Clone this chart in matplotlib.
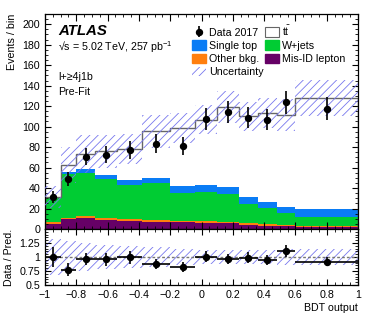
import numpy as np
import matplotlib
matplotlib.use("Agg")
import matplotlib.pyplot as plt
from matplotlib.patches import Patch
from matplotlib.ticker import MultipleLocator, FixedLocator, FixedFormatter

FS = 7.7
plt.rcParams.update({
    "font.family": ["Liberation Sans", "DejaVu Sans"],
    "mathtext.fontset": "custom",
    "mathtext.rm": "Liberation Sans",
    "mathtext.it": "Liberation Sans:italic",
    "font.size": FS,
    "hatch.linewidth": 0.6,
})

# ---- data -------------------------------------------------------------------
edges = [-1.0, -0.9, -0.8, -0.68, -0.54, -0.38, -0.2, -0.04, 0.1, 0.24, 0.36, 0.48, 0.6, 1.0]

misid     = [5.2, 9.5, 11.0, 8.5, 7.8, 7.2, 6.5, 5.8, 5.5, 4.0, 3.3, 2.9, 2.3]
other     = [1.3, 1.6, 2.0, 2.6, 2.0, 2.0, 1.7, 1.6, 1.0, 1.5, 1.3, 1.0, 0.6]
wjets     = [23.3, 42.2, 42.0, 37.5, 33.3, 35.3, 27.4, 28.8, 27.2, 19.2, 15.7, 12.1, 9.2]
singletop = [1.2, 2.2, 3.5, 4.3, 4.9, 5.2, 6.6, 7.0, 7.0, 6.5, 5.8, 5.9, 7.5]
ttbar     = [0.3, 7.2, 15.0, 22.9, 30.1, 45.7, 56.5, 63.7, 78.6, 78.8, 87.3, 89.9, 108.4]

data      = [31.4, 48.7, 70.8, 72.5, 77.5, 83.3, 81.0, 107.5, 114.0, 108.8, 106.9, 123.8, 117.6]
rel_unc   = [0.33, 0.28, 0.25, 0.21, 0.19, 0.17, 0.15, 0.13, 0.13, 0.13, 0.13, 0.14, 0.14]

xtick_vals = [-1.0, -0.8, -0.6, -0.4, -0.2, 0.0, 0.2, 0.4, 0.6, 0.8, 1.0]
xtick_text = ["\u22121", "\u22120.8", "\u22120.6", "\u22120.4", "\u22120.2",
              "0", "0.2", "0.4", "0.6", "0.8", "1"]

C_MISID = "#660066"
C_OTHER = "#ff7f0e"
C_WJETS = "#00cc33"
C_STOP  = "#0a7cf5"
C_TT    = "white"
C_HATCH = "#7878ee"
C_LINE  = "#666666"

edges = np.array(edges)
centers = 0.5 * (edges[1:] + edges[:-1])
halfw = 0.5 * (edges[1:] - edges[:-1])
data = np.array(data)
derr = np.sqrt(data)

W, H = 374, 318
fig = plt.figure(figsize=(W / 100, H / 100), dpi=100)
x0, x1 = 45 / W, 358 / W
ax = fig.add_axes([x0, 1 - 229 / H, x1 - x0, (229 - 14) / H])
rax = fig.add_axes([x0, 1 - 285 / H, x1 - x0, (285 - 229) / H], sharex=ax)

# ---- stacked backgrounds ----------------------------------------------------
base = np.zeros(len(centers))
for vals, col in [(misid, C_MISID), (other, C_OTHER), (wjets, C_WJETS),
                  (singletop, C_STOP), (ttbar, C_TT)]:
    top = base + np.array(vals)
    ax.stairs(top, edges, baseline=base, fill=True, color=col, lw=0, zorder=1)
    base = top
total = base
ax.stairs(total, edges, color=C_LINE, lw=1.0, zorder=2)

rel = np.array(rel_unc)
ax.stairs(total * (1 + rel), edges, baseline=total * (1 - rel), fill=True,
          facecolor="none", edgecolor=C_HATCH, lw=0, hatch="////", zorder=3)

h_data = ax.errorbar(centers, data, yerr=derr, fmt="o", color="black", ms=4.3,
                     elinewidth=1.2, capsize=0, zorder=5)

ax.set_xlim(-1, 1)
ax.set_ylim(0, 210)
ax.yaxis.set_major_locator(MultipleLocator(20))
ax.yaxis.set_minor_locator(MultipleLocator(5))
ax.set_ylabel("Events / bin", loc="top", fontsize=FS)
ax.tick_params(labelbottom=False)

# ---- ratio panel ------------------------------------------------------------
ratio = data / total
rerr = derr / total
rax.stairs(1 + rel, edges, baseline=1 - rel, fill=True, facecolor="none",
           edgecolor=C_HATCH, lw=0, hatch="////", zorder=1)
rax.axhline(1, color="#777777", ls=(0, (2, 1.5)), lw=1.0, zorder=2)
rax.errorbar(centers, ratio, yerr=rerr, xerr=halfw, fmt="o", color="black",
             ms=4.3, elinewidth=1.2, capsize=0, zorder=5)
rax.set_ylim(0.5, 1.5)
rax.yaxis.set_major_locator(FixedLocator([0.5, 0.75, 1.0, 1.25]))
rax.yaxis.set_major_formatter(FixedFormatter(["0.5", "0.75", "1", "1.25"]))
rax.yaxis.set_minor_locator(MultipleLocator(0.05))
rax.set_xticks(xtick_vals)
rax.set_xticklabels(xtick_text)
rax.xaxis.set_minor_locator(MultipleLocator(0.05))
rax.set_xlabel("BDT output", loc="right", fontsize=FS, labelpad=2)
rax.set_ylabel("Data / Pred.", fontsize=FS)

for a in (ax, rax):
    a.tick_params(which="both", direction="in", top=True, right=True, labelsize=FS)
    a.tick_params(which="major", length=4.5, width=0.8)
    a.tick_params(which="minor", length=2.5, width=0.6)
    for s in a.spines.values():
        s.set_linewidth(0.9)
ax.tick_params(axis="x", which="major", length=5)

fig.align_ylabels([ax, rax])

# ---- labels -----------------------------------------------------------------
ax.text(0.043, 0.92, "ATLAS", transform=ax.transAxes, fontsize=10.8,
        fontweight="bold", style="italic", va="center")
ax.text(0.043, 0.848, "\u221as = 5.02 TeV, 257 pb$^{-1}$", transform=ax.transAxes,
        fontsize=FS, va="center")
ax.text(0.043, 0.705, "l+\u22654j1b", transform=ax.transAxes, fontsize=FS, va="center")
ax.text(0.043, 0.635, "Pre-Fit", transform=ax.transAxes, fontsize=FS, va="center")

# ---- legend -----------------------------------------------------------------
h_stop = Patch(facecolor=C_STOP, edgecolor=C_STOP)
h_oth = Patch(facecolor=C_OTHER, edgecolor=C_OTHER)
h_unc = Patch(facecolor="none", edgecolor=C_HATCH, hatch="////", lw=0)
h_tt = Patch(facecolor="white", edgecolor=C_LINE, lw=0.8)
h_wj = Patch(facecolor=C_WJETS, edgecolor=C_WJETS)
h_mis = Patch(facecolor=C_MISID, edgecolor=C_MISID)
handles = [h_data, h_stop, h_oth, h_unc, h_tt, h_wj, h_mis]
labels = ["Data 2017", "Single top", "Other bkg.", "Uncertainty",
          r"$\mathrm{t\bar{t}}$", "W+jets", "Mis-ID lepton"]
ax.legend(handles, labels, ncol=2, frameon=False, fontsize=FS,
          loc="upper left", bbox_to_anchor=(0.455, 0.975),
          handlelength=1.3, handleheight=1.0, handletextpad=0.3,
          columnspacing=0.15, labelspacing=0.25, borderaxespad=0)

fig.savefig("out.png", dpi=100)
